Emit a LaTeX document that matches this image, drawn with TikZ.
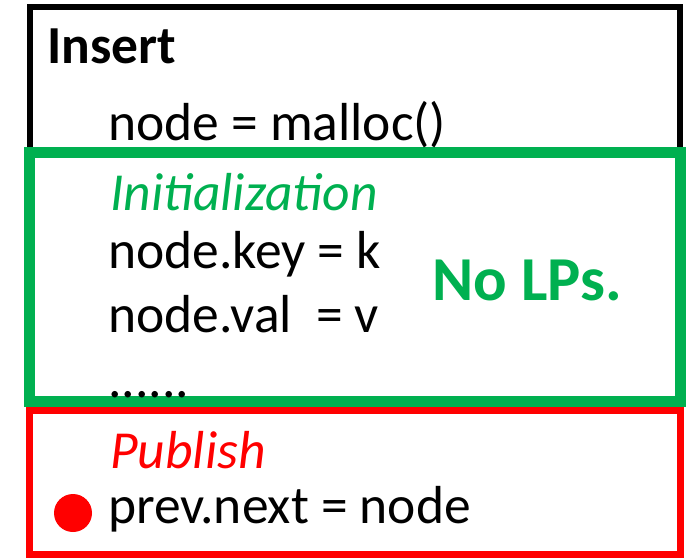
\documentclass[tikz,border=0pt]{standalone}
\usepackage{fontspec}
\setmainfont{Carlito}
\definecolor{lpgreen}{HTML}{00B050}
\definecolor{lpred}{HTML}{FF0000}
\tikzset{
  codeline/.style={anchor=base west,inner sep=0pt,font=\fontsize{53.5}{60}\selectfont},
  blockbox/.style={draw=black,line width=6pt},
  initbox/.style={draw=lpgreen,line width=11pt},
  pubbox/.style={draw=lpred,line width=7pt},
}
\begin{document}
\begin{tikzpicture}[x=1pt,y=-1pt]
\useasboundingbox (0,0) rectangle (692,557);
% Boxes
\draw[blockbox] (30,7) rectangle (680,401);
\draw[initbox] (29,152) rectangle (680,401);
\draw[pubbox] (29,410) rectangle (680,554);
% Insert block
\node[codeline,font=\fontsize{53.5}{60}\selectfont\bfseries] (insert) at (47,63) {Insert};
\node[codeline] (malloc) at (108,140) {node = malloc()};
% Initialization
\node[codeline,text=lpgreen,font=\fontsize{53.5}{60}\selectfont\itshape] (init) at (110,210) {Initialization};
\node[codeline] (key) at (108,268) {node.key = k};
\node[codeline] (val) at (108,332) {node.val\ \ = v};
\node[codeline] (dots) at (108,397) {......};
\node[codeline,text=lpgreen,font=\fontsize{62.5}{70}\selectfont\bfseries] (nolps) at (432,300) {No LPs.};
% Publish
\node[codeline,text=lpred,font=\fontsize{53.5}{60}\selectfont\itshape] (publish) at (110,468) {Publish};
\node[codeline] (prev) at (108,523) {prev.next = node};
\fill[lpred] (73,513) circle (19) coordinate (lp);
\end{tikzpicture}
\end{document}
